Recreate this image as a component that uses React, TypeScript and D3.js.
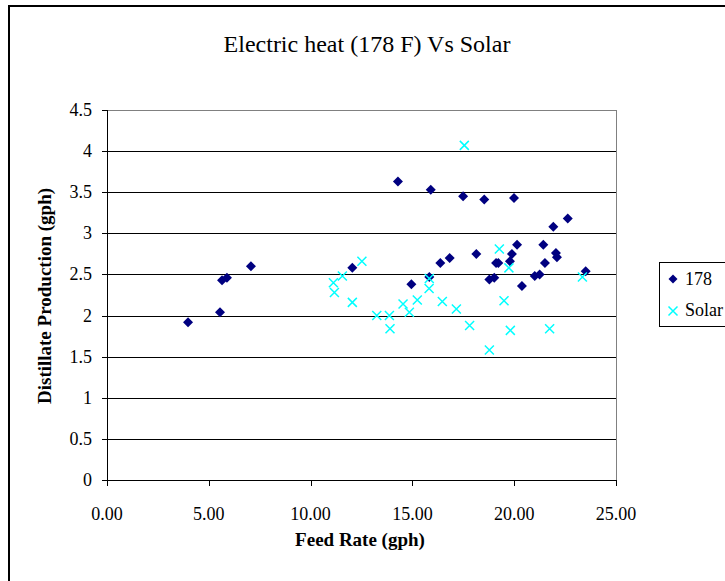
import React from "react";
import * as d3 from "d3";

const series178: [number, number][] = [
  [3.98, 1.92], [5.55, 2.04], [5.65, 2.43], [5.89, 2.46], [7.07, 2.6],
  [12.05, 2.58], [14.29, 3.63], [14.95, 2.38], [15.83, 2.47], [15.9, 3.53],
  [16.37, 2.64], [16.83, 2.7], [17.49, 3.45], [18.14, 2.75], [18.53, 3.41],
  [18.78, 2.44], [19.02, 2.46], [19.11, 2.64], [19.22, 2.64], [19.79, 2.66],
  [19.89, 2.75], [19.99, 3.43], [20.14, 2.86], [20.38, 2.36], [21.01, 2.48],
  [21.25, 2.5], [21.43, 2.86], [21.51, 2.64], [21.92, 3.08], [22.05, 2.76],
  [22.1, 2.71], [22.63, 3.18], [23.51, 2.54],
];

const seriesSolar: [number, number][] = [
  [11.12, 2.4], [11.17, 2.28], [11.56, 2.48], [12.05, 2.16], [12.52, 2.66],
  [13.25, 2.0], [13.87, 2.0], [13.9, 1.84], [14.54, 2.14], [14.85, 2.04],
  [15.24, 2.19], [15.82, 2.33], [15.83, 2.45], [16.47, 2.17], [17.16, 2.08],
  [17.55, 4.07], [17.81, 1.88], [18.78, 1.58], [19.27, 2.81], [19.5, 2.18],
  [19.74, 2.58], [19.81, 1.82], [21.74, 1.84], [23.35, 2.47],
];

const xTicks = [0, 5, 10, 15, 20, 25];
const yTicks = [0, 0.5, 1, 1.5, 2, 2.5, 3, 3.5, 4, 4.5];

const titleText = "Electric heat (178 F) Vs Solar";
const xTitle = "Feed Rate (gph)";
const yTitle = "Distillate Production (gph)";
const legendLabels = ["178", "Solar"];

const W = 725;
const H = 581;
const FONT = "Liberation Serif, Times New Roman, serif";

export default function App() {
  const left = 107;
  const right = 616;
  const top = 110;
  const bottom = 480;
  const x = d3.scaleLinear().domain([0, 25]).range([left, right]);
  const y = d3.scaleLinear().domain([0, 4.5]).range([bottom, top]);
  const diamond = (cx: number, cy: number, r = 5) =>
    `M${cx},${cy - r}L${cx + r},${cy}L${cx},${cy + r}L${cx - r},${cy}Z`;
  const cross = (cx: number, cy: number, r = 4.5) =>
    `M${cx - r},${cy - r}L${cx + r},${cy + r}M${cx - r},${cy + r}L${cx + r},${cy - r}`;
  const ts = { fontFamily: FONT };

  return (
    <svg
      width={W}
      height={H}
      style={{ position: "absolute", left: 0, top: 0, background: "#fff", fontFamily: FONT }}
    >
      <rect x={0} y={0} width={W} height={H} fill="#fff" />
      <rect x={9} y={6} width={W + 20} height={H + 20} fill="none" stroke="#000" strokeWidth={2} />
      <text x={367} y={52} textAnchor="middle" fontSize={24} style={ts}>
        {titleText}
      </text>
      {yTicks.map((t) => (
        <line key={"g" + t} x1={left} x2={right} y1={Math.round(y(t)) + 0.5} y2={Math.round(y(t)) + 0.5} stroke="#000" strokeWidth={1} />
      ))}
      <rect x={left + 0.5} y={Math.round(top) + 0.5} width={right - left} height={bottom - top} fill="none" stroke="#808080" strokeWidth={1} />
      <line x1={left + 0.5} x2={left + 0.5} y1={top} y2={bottom + 0.5} stroke="#000" />
      <line x1={left} x2={right} y1={bottom + 0.5} y2={bottom + 0.5} stroke="#000" />
      {yTicks.map((t) => (
        <g key={"y" + t}>
          <line x1={left - 5} x2={left} y1={Math.round(y(t)) + 0.5} y2={Math.round(y(t)) + 0.5} stroke="#000" />
          <text x={92} y={y(t) + 6} textAnchor="end" fontSize={18} style={ts}>
            {String(t)}
          </text>
        </g>
      ))}
      {xTicks.map((t) => (
        <g key={"x" + t}>
          <line x1={Math.round(x(t)) + 0.5} x2={Math.round(x(t)) + 0.5} y1={bottom} y2={bottom + 6} stroke="#000" />
          <text x={x(t)} y={520} textAnchor="middle" fontSize={18} style={ts}>
            {t.toFixed(2)}
          </text>
        </g>
      ))}
      <text x={360} y={546} textAnchor="middle" fontSize={19} fontWeight="bold" style={ts}>
        {xTitle}
      </text>
      <text
        transform={`translate(51,${296}) rotate(-90)`}
        textAnchor="middle"
        fontSize={19}
        fontWeight="bold"
        style={ts}
      >
        {yTitle}
      </text>
      {series178.map(([a, b], i) => (
        <path key={"d" + i} d={diamond(x(a), y(b))} fill="#000080" />
      ))}
      {seriesSolar.map(([a, b], i) => (
        <path key={"c" + i} d={cross(x(a), y(b))} fill="none" stroke="#00FFFF" strokeWidth={1.5} />
      ))}
      <rect x={659.5} y={262.5} width={80} height={64} fill="#fff" stroke="#000" strokeWidth={1} />
      <path d={diamond(673, 279, 4.5)} fill="#000080" />
      <text x={685} y={285} fontSize={18} style={ts}>
        {legendLabels[0]}
      </text>
      <path d={cross(673, 311, 4.5)} fill="none" stroke="#00FFFF" strokeWidth={1.5} />
      <text x={685} y={316} fontSize={18} style={ts}>
        {legendLabels[1]}
      </text>
    </svg>
  );
}
